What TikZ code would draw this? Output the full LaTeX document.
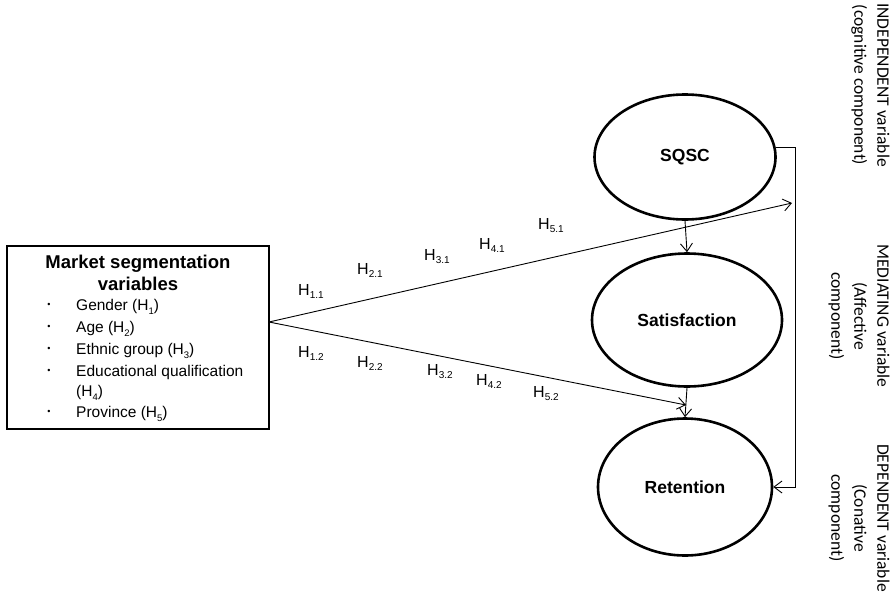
\documentclass[tikz,border=0pt]{standalone}
\usepackage{fontspec}
\setmainfont{Liberation Sans}
\newfontfamily\carl{Carlito}
\usetikzlibrary{shapes.geometric,arrows.meta}
\newcommand\hsub[1]{\raisebox{-0.45ex}{\fontsize{10}{10}\selectfont #1}}
\newcommand\isub[1]{\raisebox{-0.5ex}{\fontsize{9.5}{10}\selectfont #1}}
\begin{document}
\begin{tikzpicture}[x=1pt,y=-1pt,
  conn/.style={line width=0.9pt,-{Straight Barb[length=8pt,width=12pt]}},
  latent/.style={ellipse,draw,line width=2.6pt,inner sep=0pt,font=\fontsize{17.5}{20}\selectfont\bfseries},
  hlab/.style={font=\fontsize{16}{18}\selectfont,inner sep=0pt,anchor=base west},
  item/.style={font=\fontsize{15.5}{21}\selectfont,anchor=base west,inner sep=0pt},
  bul/.style={font=\fontsize{9}{9}\selectfont,inner sep=0pt},
  side/.style={font=\carl\fontsize{17.5}{23}\selectfont,rotate=-90,align=center,inner sep=0pt}]
\useasboundingbox (0,0) rectangle (893,597);
% box
\node[draw,line width=1.2pt,minimum width=262pt,minimum height=183pt,inner sep=0pt] (box) at (138,337.5) {};
\coordinate (apex) at (269,322);
\node[font=\fontsize{18.5}{22}\selectfont\bfseries,align=center,inner sep=0pt] (title) at (138,273) {Market segmentation\\variables};
\node[bul] (b1) at (49,305) {\textbullet};
\node[bul] (b2) at (49,327) {\textbullet};
\node[bul] (b3) at (49,349) {\textbullet};
\node[bul] (b4) at (49,371) {\textbullet};
\node[bul] (b5) at (49,412) {\textbullet};
\node[item] (i1) at (76,310.5) {Gender (H\isub{1})};
\node[item] (i2) at (76,332.5) {Age (H\isub{2})};
\node[item] (i3) at (76,354.5) {Ethnic group (H\isub{3})};
\node[item] (i4) at (76,376.5) {Educational qualification};
\node[item] (i4b) at (76,396.5) {(H\isub{4})};
\node[item] (i5) at (76,417.5) {Province (H\isub{5})};
% latent variables
\node[latent,minimum width=181pt,minimum height=125pt] (sqsc) at (685,157) {SQSC};
\node[latent,minimum width=190pt,minimum height=133pt] (sat) at (687,320) {Satisfaction};
\node[latent,minimum width=174pt,minimum height=137pt] (ret) at (685,487) {Retention};
% arrow end points
\coordinate (t1) at (792,203);
\coordinate (t2) at (686,405);
\coordinate (bt) at (795,147);
\coordinate (bb) at (795,487);
\draw[conn] (apex) -- (t1);
\draw[conn] (apex) -- (t2);
\draw[conn] (sqsc.south) -- (sat.north);
\draw[conn] (sat.south) -- (ret.north);
\draw[conn] (sqsc.east |- bt) ++(-1,0) -- (bt) -- (bb) -- (ret.east);
% hypotheses labels
\node[hlab] (h11) at (298,295) {H\hsub{1.1}};
\node[hlab] (h21) at (357,274) {H\hsub{2.1}};
\node[hlab] (h31) at (424,260) {H\hsub{3.1}};
\node[hlab] (h41) at (479,249) {H\hsub{4.1}};
\node[hlab] (h51) at (538,229) {H\hsub{5.1}};
\node[hlab] (h12) at (298,357) {H\hsub{1.2}};
\node[hlab] (h22) at (357,367) {H\hsub{2.2}};
\node[hlab] (h32) at (427,375) {H\hsub{3.2}};
\node[hlab] (h42) at (476,385) {H\hsub{4.2}};
\node[hlab] (h52) at (533,397) {H\hsub{5.2}};
% side labels
\node[side] (ind) at (870.5,85) {INDEPENDENT variable\\(cognitive component)};
\node[side] (med) at (859,316) {MEDIATING variable\\(Affective\\component)};
\node[side] (dep) at (859,518) {DEPENDENT variable\\(Conative\\component)};
\end{tikzpicture}
\end{document}
